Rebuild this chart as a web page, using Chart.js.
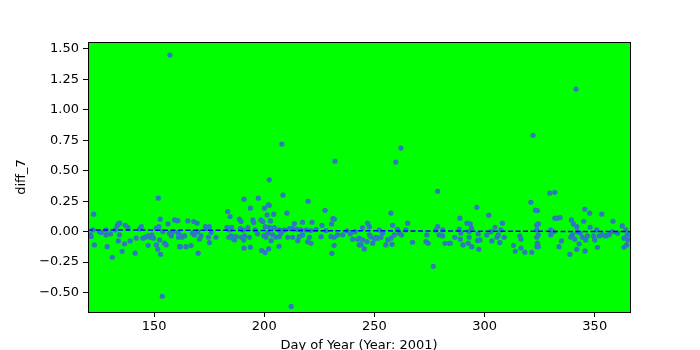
<!DOCTYPE html>
<html>
<head>
<meta charset="utf-8">
<script src="https://cdn.jsdelivr.net/npm/chart.js@4"></script>
<style>
html,body{margin:0;padding:0;background:#fff;}
#c{display:block;}
</style>
</head>
<body>
<canvas id="c" width="700" height="350"></canvas>
<script>
// Day of year for each point
const days = [
157.2,341.5,322.0,208.0,262.0,232.1,259.7,
122.6,122.2,121.1,121.4,122.9,125.2,126,128.2,128.2,128.7,130.2,131,132.3,133.2,133.8,134.4,133.8,134.3,135.5,136.6,136.9,138.1,139.1,141.4,141.9,143.4,144.2,144.9,146,147.3,147.2,148.2,149,149.7,151,151.9,152.8,152.2,151,151.7,152.9,153.7,152.5,154,154.8,155.5,156.3,157,157.8,158.5,159.3,160.2,160.8,161.1,161.6,
160.8,161.5,162.6,163.8,162,164.5,166.8,165.3,168,169.5,167.5,168.3,169.8,170.6,171.3,170,173.3,174.1,175.1,174.7,175.1,175.9,178.1,183.4,184.5,183.1,184.2,185.2,183.9,185,185.7,186.5,187.2,188.7,189.5,189.2,190.2,189.5,190.7,191,190.8,190.8,192.5,193.3,193.7,193.7,194.8,195.2,195.8,197,197.3,198.5,199.3,200.1,200.4,199.8,200.8,201.3,201.9,202.3,201.6,198.8,200.4,
208.5,219.9,202.3,204.3,210.3,227.6,202.8,231.1,231.8,226.2,217.4,221.7,213.7,230.6,202.3,204.6,206.9,209.1,211.4,212.9,214.9,216.7,219,221.2,223.5,225.8,228,230.3,231.8,233.3,235.6,237.5,239.1,241.2,242.4,240.1,203.8,205.3,203.1,206.9,207.6,210.6,212.9,215.2,215.9,217.4,219.7,221.2,220.5,206.7,202,231.7,230.7,212.2,243.1,
278.7,257.5,265.1,258.3,246.9,247.7,244.6,252.2,253.7,256,257.5,259,260.5,261.3,262.3,264.3,267.3,243.1,244.6,243.9,245.4,246.6,247.7,248.4,249.2,250,250.7,251.7,253,255.2,258,273.8,273.4,274.4,276.7,277.9,278.7,279.4,281,281,282,284,
284.4,286.5,288.8,288.5,289.2,289,290.2,292,293.5,294.1,293,293,292.6,294.2,296.5,297.1,296.8,297.9,297.4,301,301.9,302.9,303.3,304.7,305.6,306.2,306.9,307.4,308.1,308.9,313.1,313.9,316,316.5,316.5,318.3,321,321.4,323.1,323.7,323.7,323.7,323.7,324,
324,324.4,324.4,324.4,329.6,331.9,330,331.3,330,331.9,333.1,334.3,333.8,334.9,338.7,339.4,340.3,339.1,339.9,340.9,341.8,342.1,341.8,342.9,343.4,344.4,345,345.5,345.6,345.9,346.7,347.7,347.9,349.4,350,350.9,351.2,352,353.2,353.5,355,356.5,358,358.3,360.3,362.5,363.3,363.3,364.1,364.8,365.1,364.5
];
// diff_7 value for each point
const values = [
1.448,1.169,0.790,0.718,0.685,0.578,0.570,
0.143,0.014,-0.027,-0.04,-0.109,0.0,-0.008,0.014,-0.027,-0.123,-0.019,-0.21,0.014,0.047,0.063,0.069,-0.076,-0.027,-0.161,-0.10,0.052,0.036,-0.076,-0.177,-0.054,0.022,0.041,-0.054,-0.046,-0.112,-0.035,-0.046,-0.027,-0.054,0.027,0.274,0.102,0.041,-0.109,-0.145,-0.186,-0.53,-0.068,0.0,-0.095,-0.109,0.063,-0.013,-0.035,0.0,0.096,0.091,-0.008,-0.046,-0.123,
0.09,-0.027,-0.046,-0.035,-0.123,-0.123,-0.114,0.088,0.083,0.069,-0.013,-0.027,0.0,-0.062,-0.035,-0.177,0.041,0.027,0.041,-0.046,-0.09,-0.008,-0.046,0.165,0.124,0.036,0.014,0.036,-0.046,-0.035,-0.054,-0.068,-0.041,0.102,0.083,0.027,0.014,-0.046,-0.068,-0.035,0.266,-0.136,0.036,-0.046,-0.128,0.192,0.096,0.074,0.014,-0.019,0.274,0.096,0.083,0.192,0.041,-0.035,-0.046,0.137,0.22,0.425,-0.013,-0.155,-0.172,
0.299,0.249,0.216,0.143,0.151,0.175,0.088,0.107,0.102,0.052,0.077,0.077,0.066,0.063,0.036,0.033,0.014,0.014,0.025,0.028,0.019,0.014,0.014,0.009,0.019,-0.041,0.009,-0.041,-0.046,-0.027,-0.027,0.006,-0.019,0.0,-0.063,-0.063,-0.027,-0.046,-0.074,-0.041,-0.013,-0.046,-0.046,-0.074,-0.041,-0.027,-0.082,-0.096,-0.046,-0.12,-0.142,-0.112,-0.178,-0.613,-0.109,
0.331,0.151,0.069,0.052,0.069,0.041,0.033,0.014,-0.013,-0.068,-0.054,-0.027,0.019,-0.013,-0.027,0.014,-0.087,-0.054,-0.068,-0.109,-0.142,-0.082,-0.027,-0.041,-0.096,-0.063,-0.046,-0.054,-0.046,-0.109,-0.104,-0.027,-0.082,-0.096,-0.284,0.014,0.041,-0.027,0.014,-0.035,-0.096,-0.096,
-0.095,-0.046,0.11,0.02,-0.013,-0.062,-0.109,0.069,0.063,0.028,0.0,-0.046,-0.095,-0.123,0.2,-0.019,-0.073,-0.068,-0.145,-0.027,0.135,0.0,-0.076,0.036,-0.046,-0.027,-0.09,0.014,0.069,-0.046,-0.112,-0.161,-0.035,-0.062,-0.134,-0.169,0.241,-0.169,0.176,0.055,0.014,-0.046,-0.123,-0.095,
0.173,0.063,-0.027,-0.123,0.315,0.323,0.014,0.0,-0.027,0.11,0.11,0.115,-0.123,-0.076,-0.186,0.096,0.063,-0.046,-0.027,-0.062,0.041,0.0,-0.145,-0.1,-0.013,-0.046,0.085,0.184,-0.158,-0.068,-0.035,0.151,0.036,-0.035,-0.068,0.014,-0.128,-0.035,0.143,-0.027,-0.035,-0.027,0.0,0.085,-0.013,0.047,-0.054,-0.128,0.014,-0.027,-0.068,-0.109
];
// Dashed trend line endpoints
const fitDays = [120, 366];
const fitValues = [0.014, 0.0];
// Tick labels
const xTicks = [150, 200, 250, 300, 350];
const yTicks = [-0.5, -0.25, 0, 0.25, 0.5, 0.75, 1.0, 1.25, 1.5];

const FONT = "'DejaVu Sans', sans-serif";
const L = 88, T = 42, R = 630, B = 312;

const bgPlugin = {
  id: 'bg',
  beforeDatasetsDraw(chart) {
    const {ctx, chartArea: a} = chart;
    ctx.save();
    ctx.fillStyle = '#00ff00';
    ctx.fillRect(a.left, a.top, a.right - a.left, a.bottom - a.top);
    ctx.restore();
  },
  afterDraw(chart) {
    const {ctx, chartArea: a} = chart;
    ctx.save();
    ctx.strokeStyle = '#000';
    ctx.lineWidth = 1;
    ctx.strokeRect(Math.round(a.left) + 0.5, Math.round(a.top) + 0.5, Math.round(a.right - a.left), Math.round(a.bottom - a.top));
    ctx.fillStyle = '#000';
    ctx.font = '13px ' + FONT;
    ctx.textAlign = 'center';
    ctx.textBaseline = 'middle';
    ctx.fillText('Day of Year (Year: 2001)', (a.left + a.right) / 2, 346);
    ctx.translate(22, (a.top + a.bottom) / 2);
    ctx.rotate(-Math.PI / 2);
    ctx.fillText('diff_7', 0, 0);
    ctx.restore();
  }
};

new Chart(document.getElementById('c'), {
  type: 'scatter',
  data: {
    datasets: [
      {
        type: 'line',
        data: fitDays.map((d, i) => ({x: d, y: fitValues[i]})),
        borderColor: '#0000ff',
        borderWidth: 1.5,
        borderDash: [5, 2.5],
        pointRadius: 0,
        fill: false,
        order: 0
      },
      {
        data: days.map((d, i) => ({x: d, y: values[i]})),
        backgroundColor: '#2f78c0',
        borderColor: '#2f78c0',
        borderWidth: 0,
        pointRadius: 2.6,
        pointStyle: 'circle',
        order: 1
      }
    ]
  },
  plugins: [bgPlugin],
  options: {
    responsive: false,
    animation: false,
    devicePixelRatio: 1,
    layout: {padding: {top: T, right: 700 - R, left: 0, bottom: 0}},
    plugins: {legend: {display: false}, tooltip: {enabled: false}},
    scales: {
      x: {
        type: 'linear',
        min: 120, max: 366,
        afterBuildTicks: s => { s.ticks = xTicks.map(v => ({value: v})); },
        afterFit: s => { s.height = 350 - B - T * 0 ; s.height = 38; },
        grid: {drawOnChartArea: false, tickLength: 5, color: '#000', tickColor: '#000'},
        border: {display: false},
        ticks: {color: '#000', font: {family: FONT, size: 13}, padding: 2, maxRotation: 0, callback: v => String(v)}
      },
      y: {
        type: 'linear',
        min: -0.659, max: 1.555,
        afterBuildTicks: s => { s.ticks = yTicks.map(v => ({value: v})); },
        afterFit: s => { s.width = L; },
        grid: {drawOnChartArea: false, tickLength: 5, color: '#000', tickColor: '#000'},
        border: {display: false},
        ticks: {color: '#000', font: {family: FONT, size: 13}, padding: 4,
          callback: v => (v < 0 ? '\u2212' + Math.abs(v).toFixed(2) : v.toFixed(2))}
      }
    }
  }
});
</script>
</body>
</html>
